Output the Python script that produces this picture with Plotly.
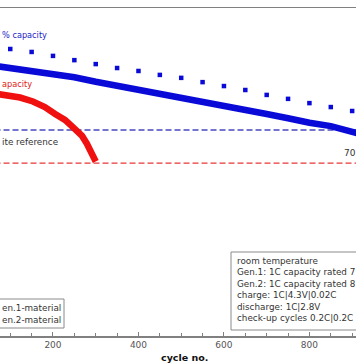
import plotly.graph_objects as go

# ---- data ----
gen2_cycles = [50, 75, 125, 150, 200, 250, 300, 350, 400, 450, 500, 550, 600, 650, 700, 750, 775, 800, 850, 875, 910, 930]
gen2_capacity = [82.6, 82.1, 81.6, 80.9, 79.9, 78.9, 77.5, 76.3, 75.2, 74.2, 73.0, 71.7, 70.4, 69.1, 67.7, 66.4, 65.5, 65.0, 64.0, 63.0, 61.8, 61.2]

gen1_cycles = [50, 76, 99, 123, 153, 181, 205, 228, 244, 256, 268, 279, 291, 300]
gen1_capacity = [74.2, 73.8, 73.3, 72.7, 71.5, 69.8, 67.7, 65.9, 64.0, 62.8, 61.0, 58.7, 56.1, 53.2]

checkup_cycles = [100, 150, 200, 250, 300, 350, 400, 450, 500, 550, 600, 650, 700, 750, 800, 850, 900]
checkup_capacity = [87.5, 86.6, 85.4, 84.1, 82.9, 81.7, 80.8, 79.6, 78.7, 77.4, 76.2, 75.0, 73.5, 72.3, 71.0, 69.8, 68.6]

graphite_ref = 62.8
gen1_limit = 52.7

x_range = [76, 909]
y_range = [0, 100]
x_ticks = [200, 400, 600, 800]

info_lines = [
    "room temperature",
    "Gen.1: 1C capacity rated 7",
    "Gen.2: 1C capacity rated 8",
    "charge: 1C|4.3V|0.02C",
    "discharge: 1C|2.8V",
    "check-up cycles 0.2C|0.2C",
]
legend_labels = ["en.1-material", "en.2-material"]

W, H = 356, 364
T, B = 8, 28
PH = H - T - B


def px(x):
    return x / W


def py(y):
    return (H - B - y) / PH


FONT = "DejaVu Sans"
BLUE = "#0a0ad8"
RED = "#f01010"

fig = go.Figure()

# reference lines
fig.add_trace(go.Scatter(x=[0, 1000], y=[graphite_ref, graphite_ref], mode="lines",
                         line=dict(color="#4848c0", width=1.3, dash="6px,3px"),
                         showlegend=False, hoverinfo="skip"))
fig.add_trace(go.Scatter(x=[0, 1000], y=[gen1_limit, gen1_limit], mode="lines",
                         line=dict(color="#e83838", width=1.3, dash="6px,3px"),
                         showlegend=False, hoverinfo="skip"))

fig.add_trace(go.Scatter(x=gen2_cycles, y=gen2_capacity, mode="lines",
                         line=dict(color=BLUE, width=6.5), showlegend=False))
fig.add_trace(go.Scatter(x=gen1_cycles, y=gen1_capacity, mode="lines",
                         line=dict(color=RED, width=6.5), showlegend=False))
fig.add_trace(go.Scatter(x=checkup_cycles, y=checkup_capacity, mode="markers",
                         marker=dict(color=BLUE, size=4.5, symbol="square", line=dict(width=0)),
                         showlegend=False))

ann = []
ann.append(dict(x=px(0), y=py(35), xref="paper", yref="paper", text="% capacity",
                showarrow=False, xanchor="left", yanchor="middle",
                font=dict(family=FONT, size=8.2, color="#1c1cc8")))
ann.append(dict(x=px(0), y=py(84), xref="paper", yref="paper", text="apacity",
                showarrow=False, xanchor="left", yanchor="middle",
                font=dict(family=FONT, size=8.2, color="#e02020")))
ann.append(dict(x=px(0), y=py(142), xref="paper", yref="paper", text="ite reference",
                showarrow=False, xanchor="left", yanchor="middle",
                font=dict(family=FONT, size=8.8, color="#333333")))
ann.append(dict(x=px(342), y=py(153), xref="paper", yref="paper", text="70",
                showarrow=False, xanchor="left", yanchor="middle",
                font=dict(family=FONT, size=9, color="#333333")))
for i, lab in enumerate(legend_labels):
    ann.append(dict(x=px(0), y=py(308 + 12 * i), xref="paper", yref="paper", text=lab,
                    showarrow=False, xanchor="left", yanchor="middle",
                    font=dict(family=FONT, size=8.8, color="#333333")))
ann.append(dict(x=px(235), y=py(254), xref="paper", yref="paper", text="<br>".join(info_lines),
                showarrow=False, xanchor="left", yanchor="top", align="left",
                font=dict(family=FONT, size=8.8, color="#333333")))
ann.append(dict(x=px(184), y=py(357), xref="paper", yref="paper", text="<b>cycle no.</b>",
                showarrow=False, xanchor="center", yanchor="middle",
                font=dict(family=FONT, size=9.5, color="#111111")))

shapes = [
    dict(type="rect", xref="paper", yref="paper", x0=-0.3, x1=px(64), y0=py(328), y1=py(299),
         line=dict(color="#8a8a8a", width=1), fillcolor="white", layer="above"),
    dict(type="rect", xref="paper", yref="paper", x0=px(231), x1=1.3, y0=py(330), y1=py(252),
         line=dict(color="#8a8a8a", width=1), fillcolor="white", layer="above"),
]

fig.update_layout(
    width=W, height=H,
    margin=dict(l=0, r=0, t=T, b=B, pad=0),
    paper_bgcolor="white", plot_bgcolor="white",
    annotations=ann, shapes=shapes,
    showlegend=False,
)
fig.update_xaxes(range=x_range, tickvals=x_ticks, ticks="inside", ticklen=4, tickwidth=1,
                 tickcolor="#808080", showline=True, linecolor="#808080", linewidth=1.5,
                 mirror=True, showgrid=False, zeroline=False,
                 tickfont=dict(family=FONT, size=9, color="#555555"),
                 minor=dict(dtick=50, tick0=0, ticks="inside", ticklen=3, tickcolor="#808080",
                            showgrid=False))
fig.update_yaxes(range=y_range, visible=False, showgrid=False, zeroline=False)

fig.write_html("out.html", config={"staticPlot": True, "displayModeBar": False},
               post_script="document.body.style.margin='0';document.body.style.overflow='hidden';")
